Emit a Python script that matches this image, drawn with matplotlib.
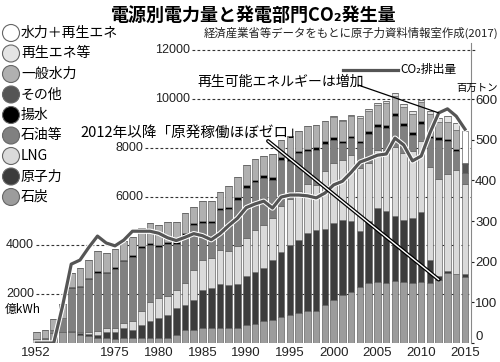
import matplotlib
matplotlib.use('Agg')
import matplotlib.pyplot as plt
import matplotlib.patheffects as pe
from matplotlib.patches import Circle
import numpy as np

plt.rcParams['font.family'] = ['Noto Sans CJK JP', 'DejaVu Sans']

# bar positions: 1952,55,60,65,70 then every year to 2015
years = [1952, 1955, 1960, 1965, 1970, 1971, 1972, 1973, 1974, 1975,
         1976, 1977, 1978, 1979, 1980, 1981, 1982, 1983, 1984, 1985,
         1986, 1987, 1988, 1989, 1990, 1991, 1992, 1993, 1994, 1995,
         1996, 1997, 1998, 1999, 2000, 2001, 2002, 2003, 2004, 2005,
         2006, 2007, 2008, 2009, 2010, 2011, 2012, 2013, 2014, 2015]

# 億kWh
coal = [150, 170, 430, 450, 450, 330, 280, 205, 200, 180,
        190, 190, 205, 205, 205, 205, 340, 545, 545, 615,
        615, 615, 615, 615, 750, 780, 890, 955, 1055, 1160,
        1230, 1325, 1325, 1545, 1750, 1950, 2100, 2300, 2450, 2500,
        2450, 2550, 2500, 2450, 2500, 2450, 2600, 2850, 2830, 2700]
nuclear = [0, 0, 0, 0, 40, 70, 90, 135, 250, 280,
           425, 355, 545, 685, 820, 955, 1095, 1025, 1230, 1570,
           1640, 1800, 1780, 1800, 1980, 2130, 2185, 2460, 2675, 2870,
           3005, 3185, 3320, 3145, 3170, 3105, 2915, 2305, 2540, 3035,
           2975, 2670, 2555, 2675, 2870, 965, 160, 90, 0, 130]
lng = [0, 0, 0, 0, 20, 40, 70, 140, 160, 170,
       205, 345, 550, 800, 820, 750, 750, 890, 1230, 1230,
       1230, 1410, 1365, 1550, 1575, 1735, 1775, 1710, 1870, 1870,
       2000, 2000, 1845, 2350, 2460, 2460, 2675, 2570, 2390, 2390,
       2500, 2830, 2745, 2745, 2900, 3800, 3970, 3990, 4275, 3690]
oil = [0, 20, 100, 560, 1730, 1840, 2175, 2410, 2250, 2410,
       2535, 2650, 2590, 2340, 2105, 2160, 1885, 1970, 1830, 1515,
       1445, 1620, 1740, 1915, 2060, 1955, 1925, 1565, 1900, 1575,
       1540, 1350, 1425, 1120, 940, 670, 700, 1010, 1190, 935,
       905, 1260, 1100, 660, 700, 1185, 1605, 1350, 770, 450]
other = [0, 0, 0, 0, 0, 0, 0, 0, 0, 0,
         0, 0, 0, 0, 0, 0, 0, 0, 0, 0,
         0, 0, 0, 0, 0, 0, 0, 0, 0, 0,
         0, 0, 0, 0, 0, 0, 0, 0, 0, 0,
         0, 0, 0, 0, 0, 0, 0, 0, 0, 360]
pumped = [0, 0, 0, 20, 40, 45, 50, 50, 50, 60,
          60, 60, 70, 70, 80, 80, 80, 80, 85, 85,
          85, 90, 90, 95, 100, 100, 100, 100, 110, 110,
          110, 110, 110, 110, 110, 110, 110, 110, 110, 120,
          120, 120, 120, 120, 120, 100, 100, 100, 80, 60]
hydro = [300, 340, 460, 570, 570, 750, 750, 820, 780, 760,
         765, 730, 755, 800, 795, 800, 800, 820, 655, 795,
         795, 645, 830, 815, 825, 855, 775, 970, 700, 915,
         795, 915, 900, 845, 850, 810, 800, 925, 850, 770,
         885, 710, 670, 740, 775, 870, 630, 700, 775, 0]
renew = [0, 0, 0, 0, 0, 0, 0, 0, 0, 0,
         0, 0, 0, 0, 0, 0, 0, 0, 0, 0,
         0, 0, 0, 0, 0, 0, 0, 0, 0, 0,
         0, 0, 0, 0, 40, 50, 60, 70, 80, 90,
         100, 110, 110, 110, 110, 130, 160, 210, 290, 0]
hydro_renew = [0, 0, 0, 0, 0, 0, 0, 0, 0, 0,
               0, 0, 0, 0, 0, 0, 0, 0, 0, 0,
               0, 0, 0, 0, 0, 0, 0, 0, 0, 0,
               0, 0, 0, 0, 0, 0, 0, 0, 0, 0,
               0, 0, 0, 0, 0, 0, 0, 0, 0, 1290]

# 百万トン
co2 = [0, 0, 0, 90, 194, 204, 235, 263, 246, 239,
       253, 275, 275, 275, 270, 259, 252, 260, 269, 264,
       254, 269, 289, 307, 333, 342, 349, 332, 359, 364,
       364, 362, 357, 369, 389, 398, 420, 445, 453, 462,
       465, 504, 487, 448, 460, 517, 566, 576, 558, 526]

tick_years = [1952, 1975, 1980, 1985, 1990, 1995, 2000, 2005, 2010, 2015]
left_ticks = [2000, 4000, 6000, 8000, 10000, 12000]
right_ticks = [0, 100, 200, 300, 400, 500, 600]

legend_names = ['水力＋再生エネ', '再生エネ等', '一般水力', 'その他', '揚水',
                '石油等', 'LNG', '原子力', '石炭']
legend_colors = ['#ffffff', '#e4e4e4', '#b0b0b0', '#555555', '#000000',
                 '#808080', '#dadada', '#3c3c3c', '#9c9c9c']

W, H = 500, 362
fig = plt.figure(figsize=(W / 100, H / 100), dpi=100)
ax = fig.add_axes([28 / W, 19 / H, 443 / W, 300 / H])
ax.set_xlim(-0.94, 49.69)
ax.set_ylim(0, 12300)
scale = 0.06  # right axis units per left unit

x = np.arange(len(years))
stack = [(coal, '#9c9c9c'), (nuclear, '#3c3c3c'), (lng, '#dadada'),
         (oil, '#808080'), (other, '#555555'), (pumped, '#000000'),
         (hydro, '#b0b0b0'), (renew, '#e4e4e4'), (hydro_renew, '#ffffff')]
bottom = np.zeros(len(years))
for vals, col in stack:
    vals = np.array(vals, dtype=float)
    ax.bar(x, vals, bottom=bottom, width=0.75, color=col,
           edgecolor='#666666', linewidth=0.5, zorder=2)
    bottom += vals

# dashed guide lines with labels placed next to them
label_x = {2000: -0.25, 4000: -0.25, 6000: 12.2, 8000: 12.2, 10000: 17.6, 12000: 17.6}
for v in left_ticks:
    end = 50.4 if v == 12000 else 49.69
    ax.plot([label_x[v] + 0.25, end], [v, v], color='#333333', lw=0.8,
            dashes=(2.5, 2), zorder=1, clip_on=False)
    ax.text(label_x[v], v, str(v), ha='right', va='center', fontsize=9,
            family='Liberation Sans', color='#222222')

ax.set_xticks([years.index(y) for y in tick_years])
ax.set_xticklabels([str(y) for y in tick_years], family='Liberation Sans')
ax.tick_params(axis='x', length=0, pad=3, labelsize=9.5, colors='#222222')
ax.set_yticks([])
for s in ax.spines.values():
    s.set_visible(False)

ax2 = ax.twinx()
ax2.set_ylim(0, 12300 * scale)
ax2.set_yticks(right_ticks)
ax2.set_yticklabels([str(v) for v in right_ticks], family='Liberation Sans')
ax2.tick_params(axis='y', length=2, pad=1, labelsize=9.5, colors='#222222')
for k in ['top', 'left', 'bottom']:
    ax2.spines[k].set_visible(False)
ax2.spines['right'].set_color('#888888')
ax2.spines['right'].set_linewidth(0.8)
# lift the zero label a little so it clears the year labels
ax2.get_yticklabels()[0].set_va('bottom')

line_fx = [pe.Stroke(linewidth=3.8, foreground='white'), pe.Normal()]
ax2.plot(x, co2, color='#555555', lw=2.3, zorder=3, path_effects=line_fx)

# leader lines
ax2.annotate('', xy=(46, co2[46]), xytext=(358, H - 85), textcoords='figure pixels',
             arrowprops=dict(arrowstyle='-', color='black', lw=0.9, shrinkA=0, shrinkB=0))
for lw, col in [(2.8, 'black'), (1.0, 'white')]:
    ax2.annotate('', xy=(46, coal[46]), xycoords=ax.transData,
                 xytext=(268, H - 141), textcoords='figure pixels',
                 arrowprops=dict(arrowstyle='-', color=col, lw=lw, shrinkA=0, shrinkB=0))

# overlay in pixel coordinates for titles and the legend
ov = fig.add_axes([0, 0, 1, 1], zorder=5)
ov.set_xlim(0, W)
ov.set_ylim(H, 0)
ov.axis('off')

ov.text(254, 15, '電源別電力量と発電部門CO₂発生量', ha='center', va='center',
        fontsize=13, fontweight='bold')
ov.text(498, 33, '経済産業省等データをもとに原子力資料情報室作成(2017)',
        ha='right', va='center', fontsize=8.2, color='#222222')

for k, (name, col) in enumerate(zip(legend_names, legend_colors)):
    yy = 33 + k * 20.5
    ov.add_patch(Circle((11, yy), 8.5, facecolor=col, edgecolor='#666666', lw=0.8))
    ov.text(21, yy, name, va='center', fontsize=10)

ov.plot([343, 398], [70, 70], color='#555555', lw=2.3, path_effects=line_fx)
ov.text(400, 70, 'CO₂排出量', va='center', fontsize=8.5)
ov.text(477, 88, '百万トン', ha='center', va='center', fontsize=7.5)
ov.text(5, 309, '億kWh', va='center', fontsize=8.5)
ov.text(197, 82, '再生可能エネルギーは増加', va='center', fontsize=10)
ov.text(80, 133, '2012年以降「原発稼働ほぼゼロ」', va='center', fontsize=10.5)

fig.savefig('out.png', dpi=100)
